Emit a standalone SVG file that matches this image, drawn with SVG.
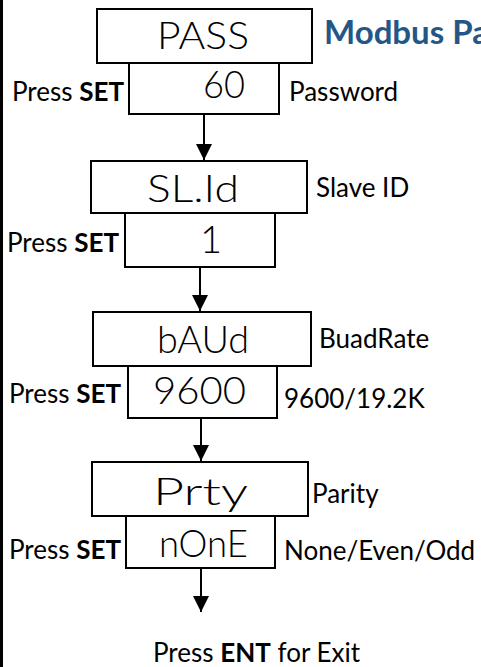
<svg xmlns="http://www.w3.org/2000/svg" width="481" height="667" viewBox="0 0 481 667">
<style>
.box{fill:#fff;stroke:#000;stroke-width:2}
.lbl{font-family:Lato,"Liberation Sans",sans-serif;font-size:26px;fill:#000}
.seg{font-family:Lato,"Liberation Sans",sans-serif;font-weight:300;font-size:38px;fill:#000}
.title{font-family:Lato,"Liberation Sans",sans-serif;font-size:33px;font-weight:bold;fill:#245786}
.conn{stroke:#000;stroke-width:2;fill:none;marker-end:url(#ah)}
</style>
<defs>
<marker id="ah" viewBox="0 0 16 16" refX="16" refY="8" markerWidth="16" markerHeight="16" markerUnits="userSpaceOnUse" orient="auto">
<path d="M0,0 L16,8 L0,16 z" fill="#000"/>
</marker>
</defs>
<rect x="0" y="0" width="3" height="667" fill="#000"/>
<g id="title"><text class="title" x="324" y="44">Modbus Pa</text></g>
<g id="pass">
<rect class="box" x="97" y="9" width="215" height="54"/>
<text class="seg" x="157" y="49" textLength="92" lengthAdjust="spacingAndGlyphs">PASS</text>
</g>
<g id="pass-val">
<rect class="box" x="129" y="63" width="150" height="51"/>
<text class="seg" x="203" y="98" textLength="42" lengthAdjust="spacingAndGlyphs">60</text>
<text class="lbl" x="12" y="101">Press <tspan font-weight="bold">SET</tspan></text>
<text class="lbl" x="289" y="101">Password</text>
</g>
<g id="slid">
<rect class="box" x="91" y="161" width="216" height="52"/>
<text class="seg" x="147" y="202" textLength="92" lengthAdjust="spacingAndGlyphs">SL.Id</text>
<text class="lbl" x="316" y="197">Slave ID</text>
</g>
<g id="slid-val">
<rect class="box" x="125" y="213" width="150" height="54"/>
<text class="seg" x="211" y="253" text-anchor="middle">1</text>
<text class="lbl" x="7" y="252">Press <tspan font-weight="bold">SET</tspan></text>
</g>
<g id="baud">
<rect class="box" x="93" y="312" width="218" height="54"/>
<text class="seg" x="157" y="353" textLength="92" lengthAdjust="spacingAndGlyphs">bAUd</text>
<text class="lbl" x="319" y="348">BuadRate</text>
</g>
<g id="baud-val">
<rect class="box" x="128" y="366" width="149" height="52"/>
<text class="seg" x="153" y="404" textLength="93" lengthAdjust="spacingAndGlyphs">9600</text>
<text class="lbl" x="9" y="403">Press <tspan font-weight="bold">SET</tspan></text>
<text class="lbl" x="284" y="408">9600/19.2K</text>
</g>
<g id="prty">
<rect class="box" x="92" y="462" width="216" height="54"/>
<text class="seg" x="153" y="505" textLength="95" lengthAdjust="spacingAndGlyphs">Prty</text>
<text class="lbl" x="312" y="503">Parity</text>
</g>
<g id="prty-val">
<rect class="box" x="126" y="516" width="149" height="52"/>
<text class="seg" x="159" y="557" textLength="89" lengthAdjust="spacingAndGlyphs">nOnE</text>
<text class="lbl" x="9" y="559">Press <tspan font-weight="bold">SET</tspan></text>
<text class="lbl" x="284" y="560">None/Even/Odd</text>
</g>
<g id="exit">
<text class="lbl" x="153" y="662">Press <tspan font-weight="bold">ENT</tspan> for Exit</text>
</g>
<g id="connectors">
<line class="conn" x1="204" y1="114" x2="204" y2="160"/>
<line class="conn" x1="200" y1="267" x2="200" y2="311"/>
<line class="conn" x1="201" y1="418" x2="201" y2="461"/>
<line class="conn" x1="201" y1="568" x2="201" y2="612"/>
</g>
</svg>
